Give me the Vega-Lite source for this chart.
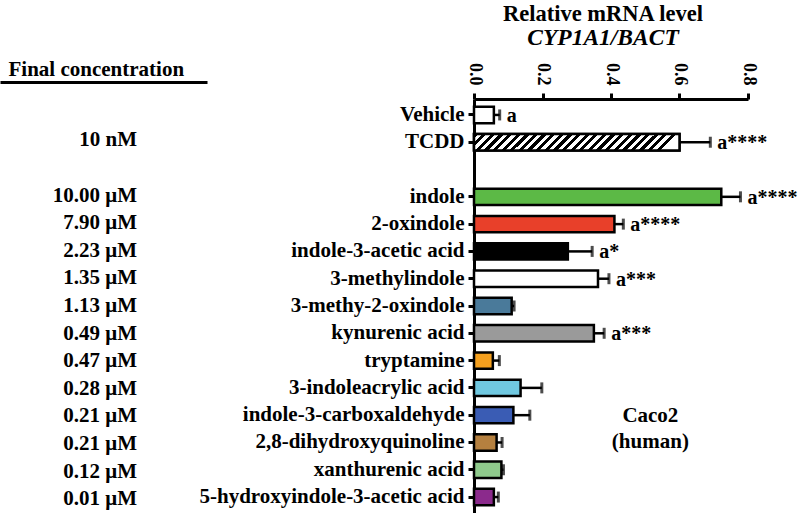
{
  "$schema": "https://vega.github.io/schema/vega-lite/v6.json",
  "background": "white",
  "padding": {"left": 0, "top": 2, "right": 0, "bottom": 0},
  "bounds": "flush",
  "spacing": 267,
  "datasets": {
    "d": [
      {"compound": "Vehicle", "conc": "", "value": 0.058, "err": 0.075, "sig": "a"},
      {"compound": "TCDD", "conc": "10 nM", "value": 0.6, "err": 0.69, "sig": "a****"},
      {"compound": "indole", "conc": "10.00 μM", "value": 0.722, "err": 0.778, "sig": "a****"},
      {"compound": "2-oxindole", "conc": "7.90 μM", "value": 0.41, "err": 0.436, "sig": "a****"},
      {"compound": "indole-3-acetic acid", "conc": "2.23 μM", "value": 0.274, "err": 0.345, "sig": "a*"},
      {"compound": "3-methylindole", "conc": "1.35 μM", "value": 0.362, "err": 0.394, "sig": "a***"},
      {"compound": "3-methy-2-oxindole", "conc": "1.13 μM", "value": 0.11, "err": 0.117, "sig": ""},
      {"compound": "kynurenic acid", "conc": "0.49 μM", "value": 0.35, "err": 0.38, "sig": "a***"},
      {"compound": "tryptamine", "conc": "0.47 μM", "value": 0.055, "err": 0.074, "sig": ""},
      {"compound": "3-indoleacrylic acid", "conc": "0.28 μM", "value": 0.136, "err": 0.198, "sig": ""},
      {"compound": "indole-3-carboxaldehyde", "conc": "0.21 μM", "value": 0.115, "err": 0.163, "sig": ""},
      {"compound": "2,8-dihydroxyquinoline", "conc": "0.21 μM", "value": 0.066, "err": 0.082, "sig": ""},
      {"compound": "xanthurenic acid", "conc": "0.12 μM", "value": 0.08, "err": 0.086, "sig": ""},
      {"compound": "5-hydroxyindole-3-acetic acid", "conc": "0.01 μM", "value": 0.058, "err": 0.071, "sig": ""}
    ]
  },
  "hconcat": [
    {
      "width": 207,
      "height": 414,
      "data": {"name": "d"},
      "transform": [{"filter": "datum.conc != ''"}],
      "mark": {"type": "text", "align": "right", "baseline": "middle", "font": "Liberation Serif, Times New Roman, DejaVu Serif, serif", "fontWeight": "bold", "fontSize": 21},
      "encoding": {
        "y": {
          "field": "compound", "type": "nominal",
          "scale": {"domain": ["Vehicle", "TCDD", " ", "indole", "2-oxindole", "indole-3-acetic acid", "3-methylindole", "3-methy-2-oxindole", "kynurenic acid", "tryptamine", "3-indoleacrylic acid", "indole-3-carboxaldehyde", "2,8-dihydroxyquinoline", "xanthurenic acid", "5-hydroxyindole-3-acetic acid"], "paddingInner": 0.4, "paddingOuter": 0.284},
          "axis": null
        },
        "x": {
          "datum": 0.662, "type": "quantitative",
          "scale": {"domain": [0, 1]},
          "axis": {"orient": "top", "offset": 17, "ticks": false, "labels": false, "grid": false, "domainWidth": 3, "domainColor": "black", "title": "Final concentration", "titleAnchor": "start", "titleX": 8, "titlePadding": 3, "titleFont": "Liberation Serif, Times New Roman, DejaVu Serif, serif", "titleFontWeight": "bold", "titleFontSize": 21, "titleColor": "black"}
        },
        "text": {"field": "conc"}
      }
    },
    {
      "width": 274,
      "height": 414,
      "title": {
        "text": "Relative mRNA level",
        "subtitle": "CYP1A1/BACT",
        "anchor": "middle",
        "dx": -8,
        "font": "Liberation Serif, Times New Roman, DejaVu Serif, serif",
        "fontSize": 22.5,
        "fontWeight": "bold",
        "color": "black",
        "subtitleFont": "Liberation Serif, Times New Roman, DejaVu Serif, serif",
        "subtitleFontSize": 23.5,
        "subtitleFontWeight": "bold",
        "subtitleFontStyle": "italic",
        "subtitleColor": "black",
        "subtitlePadding": 1,
        "offset": 13
      },
      "data": {"name": "d"},
      "encoding": {
        "y": {
          "field": "compound", "type": "nominal",
          "scale": {"domain": ["Vehicle", "TCDD", " ", "indole", "2-oxindole", "indole-3-acetic acid", "3-methylindole", "3-methy-2-oxindole", "kynurenic acid", "tryptamine", "3-indoleacrylic acid", "indole-3-carboxaldehyde", "2,8-dihydroxyquinoline", "xanthurenic acid", "5-hydroxyindole-3-acetic acid"], "paddingInner": 0.4, "paddingOuter": 0.284},
          "axis": {
            "orient": "left", "title": null, "domainWidth": 3, "domainColor": "black",
            "tickWidth": 3, "tickSize": 6, "tickColor": "black",
            "tickOpacity": {"condition": {"test": "datum.value === ' '", "value": 0}, "value": 1},
            "labelPadding": 4, "labelFont": "Liberation Serif, Times New Roman, DejaVu Serif, serif", "labelFontWeight": "bold", "labelFontSize": 21, "labelColor": "black", "labelLimit": 400
          }
        }
      },
      "layer": [
        {
          "mark": {"type": "bar", "stroke": "black", "strokeWidth": 2.5},
          "encoding": {
            "x": {
              "field": "value", "type": "quantitative",
              "scale": {"domain": [0, 0.8], "nice": false},
              "axis": {
                "orient": "top", "title": null, "values": [0, 0.2, 0.4, 0.6, 0.8], "format": ".1f",
                "labelAngle": 90, "labelPadding": 8, "labelFont": "Liberation Serif, Times New Roman, DejaVu Serif, serif", "labelFontWeight": "bold", "labelFontSize": 18, "labelColor": "black",
                "domainWidth": 3, "domainColor": "black", "tickWidth": 3, "tickSize": 6, "tickColor": "black", "grid": false
              }
            },
            "fill": {
              "field": "compound", "type": "nominal", "legend": null,
              "scale": {
                "domain": ["Vehicle", "TCDD", "indole", "2-oxindole", "indole-3-acetic acid", "3-methylindole", "3-methy-2-oxindole", "kynurenic acid", "tryptamine", "3-indoleacrylic acid", "indole-3-carboxaldehyde", "2,8-dihydroxyquinoline", "xanthurenic acid", "5-hydroxyindole-3-acetic acid"],
                "range": ["#ffffff", "#ffffff", "#5cb946", "#e8402a", "#000000", "#ffffff", "#4a7a9a", "#9a9a9a", "#f5a01e", "#70c8e0", "#3a5cb4", "#b5803f", "#8fca8c", "#8b2a8c"]
              }
            }
          }
        },
        {
          "transform": [{"filter": "datum.compound == 'TCDD'"}],
          "mark": {
            "type": "bar", "stroke": "black", "strokeWidth": 2.5,
            "fill": {
              "gradient": "linear", "x1": 0, "y1": 0, "x2": 1, "y2": 0.08,
              "stops": [
                {"offset": 0.0, "color": "black"}, {"offset": 0.0208, "color": "black"}, {"offset": 0.0208, "color": "white"}, {"offset": 0.0417, "color": "white"},
                {"offset": 0.0417, "color": "black"}, {"offset": 0.0625, "color": "black"}, {"offset": 0.0625, "color": "white"}, {"offset": 0.0833, "color": "white"},
                {"offset": 0.0833, "color": "black"}, {"offset": 0.1042, "color": "black"}, {"offset": 0.1042, "color": "white"}, {"offset": 0.125, "color": "white"},
                {"offset": 0.125, "color": "black"}, {"offset": 0.1458, "color": "black"}, {"offset": 0.1458, "color": "white"}, {"offset": 0.1667, "color": "white"},
                {"offset": 0.1667, "color": "black"}, {"offset": 0.1875, "color": "black"}, {"offset": 0.1875, "color": "white"}, {"offset": 0.2083, "color": "white"},
                {"offset": 0.2083, "color": "black"}, {"offset": 0.2292, "color": "black"}, {"offset": 0.2292, "color": "white"}, {"offset": 0.25, "color": "white"},
                {"offset": 0.25, "color": "black"}, {"offset": 0.2708, "color": "black"}, {"offset": 0.2708, "color": "white"}, {"offset": 0.2917, "color": "white"},
                {"offset": 0.2917, "color": "black"}, {"offset": 0.3125, "color": "black"}, {"offset": 0.3125, "color": "white"}, {"offset": 0.3333, "color": "white"},
                {"offset": 0.3333, "color": "black"}, {"offset": 0.3542, "color": "black"}, {"offset": 0.3542, "color": "white"}, {"offset": 0.375, "color": "white"},
                {"offset": 0.375, "color": "black"}, {"offset": 0.3958, "color": "black"}, {"offset": 0.3958, "color": "white"}, {"offset": 0.4167, "color": "white"},
                {"offset": 0.4167, "color": "black"}, {"offset": 0.4375, "color": "black"}, {"offset": 0.4375, "color": "white"}, {"offset": 0.4583, "color": "white"},
                {"offset": 0.4583, "color": "black"}, {"offset": 0.4792, "color": "black"}, {"offset": 0.4792, "color": "white"}, {"offset": 0.5, "color": "white"},
                {"offset": 0.5, "color": "black"}, {"offset": 0.5208, "color": "black"}, {"offset": 0.5208, "color": "white"}, {"offset": 0.5417, "color": "white"},
                {"offset": 0.5417, "color": "black"}, {"offset": 0.5625, "color": "black"}, {"offset": 0.5625, "color": "white"}, {"offset": 0.5833, "color": "white"},
                {"offset": 0.5833, "color": "black"}, {"offset": 0.6042, "color": "black"}, {"offset": 0.6042, "color": "white"}, {"offset": 0.625, "color": "white"},
                {"offset": 0.625, "color": "black"}, {"offset": 0.6458, "color": "black"}, {"offset": 0.6458, "color": "white"}, {"offset": 0.6667, "color": "white"},
                {"offset": 0.6667, "color": "black"}, {"offset": 0.6875, "color": "black"}, {"offset": 0.6875, "color": "white"}, {"offset": 0.7083, "color": "white"},
                {"offset": 0.7083, "color": "black"}, {"offset": 0.7292, "color": "black"}, {"offset": 0.7292, "color": "white"}, {"offset": 0.75, "color": "white"},
                {"offset": 0.75, "color": "black"}, {"offset": 0.7708, "color": "black"}, {"offset": 0.7708, "color": "white"}, {"offset": 0.7917, "color": "white"},
                {"offset": 0.7917, "color": "black"}, {"offset": 0.8125, "color": "black"}, {"offset": 0.8125, "color": "white"}, {"offset": 0.8333, "color": "white"},
                {"offset": 0.8333, "color": "black"}, {"offset": 0.8542, "color": "black"}, {"offset": 0.8542, "color": "white"}, {"offset": 0.875, "color": "white"},
                {"offset": 0.875, "color": "black"}, {"offset": 0.8958, "color": "black"}, {"offset": 0.8958, "color": "white"}, {"offset": 0.9167, "color": "white"},
                {"offset": 0.9167, "color": "black"}, {"offset": 0.9375, "color": "black"}, {"offset": 0.9375, "color": "white"}, {"offset": 0.9583, "color": "white"},
                {"offset": 0.9583, "color": "black"}, {"offset": 0.9792, "color": "black"}, {"offset": 0.9792, "color": "white"}, {"offset": 1.0, "color": "white"}
              ]
            }
          },
          "encoding": {
            "x": {"field": "value", "type": "quantitative"}
          }
        },
        {
          "mark": {"type": "rule", "stroke": "black", "strokeWidth": 2.5},
          "encoding": {
            "x": {"field": "value", "type": "quantitative"},
            "x2": {"field": "err"}
          }
        },
        {
          "mark": {"type": "tick", "color": "black", "size": 11, "thickness": 3, "orient": "vertical"},
          "encoding": {
            "x": {"field": "err", "type": "quantitative"}
          }
        },
        {
          "transform": [{"filter": "datum.sig != ''"}],
          "mark": {"type": "text", "align": "left", "baseline": "middle", "dx": 7, "dy": 1, "font": "Liberation Serif, Times New Roman, DejaVu Serif, serif", "fontWeight": "bold", "fontSize": 20, "color": "black"},
          "encoding": {
            "x": {"field": "err", "type": "quantitative"},
            "text": {"field": "sig"}
          }
        },
        {
          "data": {"values": [{"label": ["Caco2", "(human)"]}]},
          "mark": {"type": "text", "align": "center", "baseline": "middle", "lineHeight": 26, "font": "Liberation Serif, Times New Roman, DejaVu Serif, serif", "fontWeight": "bold", "fontSize": 21, "color": "black"},
          "encoding": {
            "x": {"datum": 0.515, "type": "quantitative"},
            "y": {"datum": "indole-3-carboxaldehyde", "type": "nominal", "bandPosition": 0.55},
            "text": {"field": "label"}
          }
        }
      ]
    }
  ],
  "config": {
    "view": {"stroke": null},
    "font": "Liberation Serif, Times New Roman, DejaVu Serif, serif"
  }
}
